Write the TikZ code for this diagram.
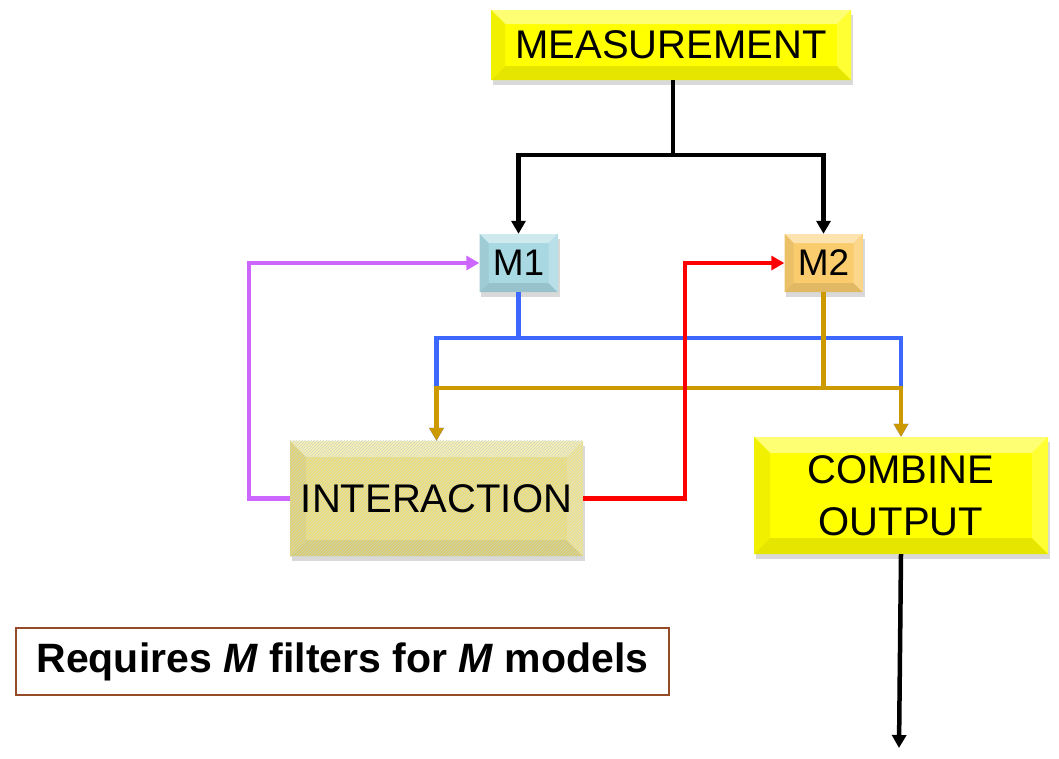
\documentclass[tikz,border=0pt]{standalone}
\usepackage{fontspec}
\setmainfont{Liberation Sans}
\usetikzlibrary{arrows.meta,backgrounds,patterns}
\definecolor{ylw}{RGB}{255,255,0}
\definecolor{mone}{RGB}{168,216,226}
\definecolor{mtwo}{RGB}{250,204,110}
\definecolor{intc}{RGB}{242,224,118}
\definecolor{bl}{RGB}{61,104,255}
\definecolor{gd}{RGB}{204,153,0}
\definecolor{rd}{RGB}{255,0,0}
\definecolor{pu}{RGB}{204,102,255}
\definecolor{brn}{RGB}{150,75,40}
\definecolor{hatchc}{RGB}{205,215,195}
\tikzset{
  bev/.style n args={2}{fill=#1, inner sep=0pt, draw=none,
    path picture={
      \fill[#1!55!white] (path picture bounding box.north west) -- (path picture bounding box.north east) -- ([xshift=-#2pt,yshift=-#2pt]path picture bounding box.north east) -- ([xshift=#2pt,yshift=-#2pt]path picture bounding box.north west) -- cycle;
      \fill[#1!90!black] (path picture bounding box.south west) -- (path picture bounding box.south east) -- ([xshift=-#2pt,yshift=#2pt]path picture bounding box.south east) -- ([xshift=#2pt,yshift=#2pt]path picture bounding box.south west) -- cycle;
      \fill[#1!94!black] (path picture bounding box.north west) -- (path picture bounding box.south west) -- ([xshift=#2pt,yshift=#2pt]path picture bounding box.south west) -- ([xshift=#2pt,yshift=-#2pt]path picture bounding box.north west) -- cycle;
      \fill[#1!80!white] (path picture bounding box.north east) -- (path picture bounding box.south east) -- ([xshift=-#2pt,yshift=#2pt]path picture bounding box.south east) -- ([xshift=-#2pt,yshift=-#2pt]path picture bounding box.north east) -- cycle;
    }},
  lbl/.style={font=\fontsize{40}{52}\selectfont, align=center, text=black},
  conn/.style={line width=4.5pt},
  tip/.style={-{Triangle[length=13pt,width=14pt]}},
  shd/.style={fill=black, opacity=0.15}
}
\begin{document}
\begin{tikzpicture}[x=1pt,y=-1pt]
\useasboundingbox (0,0) rectangle (1059,758);

% boxes
\node[bev={ylw}{14}, minimum width=360pt, minimum height=70pt, lbl] (meas) at (671,45) {MEASUREMENT};
\node[bev={mone}{9}, minimum width=78pt, minimum height=58pt, lbl, font=\fontsize{37}{44}\selectfont] (m1) at (518.5,263) {M1};
\node[bev={mtwo}{9}, minimum width=78pt, minimum height=58pt, lbl, font=\fontsize{37}{44}\selectfont] (m2) at (823.5,263) {M2};
\node[bev={intc}{16}, minimum width=293pt, minimum height=115pt] (inter) at (436.5,498.5) {};
\fill[pattern=north east lines, pattern color=hatchc] (inter.south west) rectangle (inter.north east);
\node[lbl] (intertext) at (inter.center) {INTERACTION};
\node[bev={ylw}{16}, minimum width=294pt, minimum height=117pt, lbl] (comb) at (901,495.5) {COMBINE\\OUTPUT};
\node[draw=brn, line width=1.5pt, fill=white, minimum width=653pt, minimum height=67pt, inner sep=0pt,
      font=\bfseries\fontsize{41}{48}\selectfont] (req) at (342.5,661.5) {Requires \textit{M} filters for \textit{M} models};

% shadows
\begin{scope}[on background layer]
\foreach \n in {meas,m1,m2,inter,comb}{
  \fill[shd] ([shift={(2pt,-5pt)}]\n.south west) rectangle ([shift={(2pt,-5pt)}]\n.north east);
}
\end{scope}

% coordinates
\coordinate (split) at (673,155);
\coordinate (bsplit) at (518.5,338);
\coordinate (gsplit) at (823.5,388);
\coordinate (pcorner) at (249,498.5);
\coordinate (rcorner) at (685,498.5);
\coordinate (out) at (899,748);

% black
\draw[conn] (meas.south -| split) -- (split);
\draw[conn, tip] (split) -| (m1.north);
\draw[conn, tip] (split) -| (m2.north);

% blue
\draw[conn, bl] (m1.south) -- (bsplit);
\draw[conn, bl, tip] (bsplit) -| (inter.north);
\draw[conn, bl, tip] (bsplit) -| (comb.north);

% gold
\draw[conn, gd] (m2.south) -- (gsplit);
\draw[conn, gd, tip] (gsplit) -| (inter.north);
\draw[conn, gd, tip] (gsplit) -| (comb.north);

% purple
\draw[conn, pu, tip] (inter.west) -- (pcorner) |- (m1.west);

% red
\draw[conn, rd, tip] (inter.east) -- (rcorner) |- (m2.west);

% output
\draw[conn, tip] (comb.south) -- (out);
\end{tikzpicture}
\end{document}
